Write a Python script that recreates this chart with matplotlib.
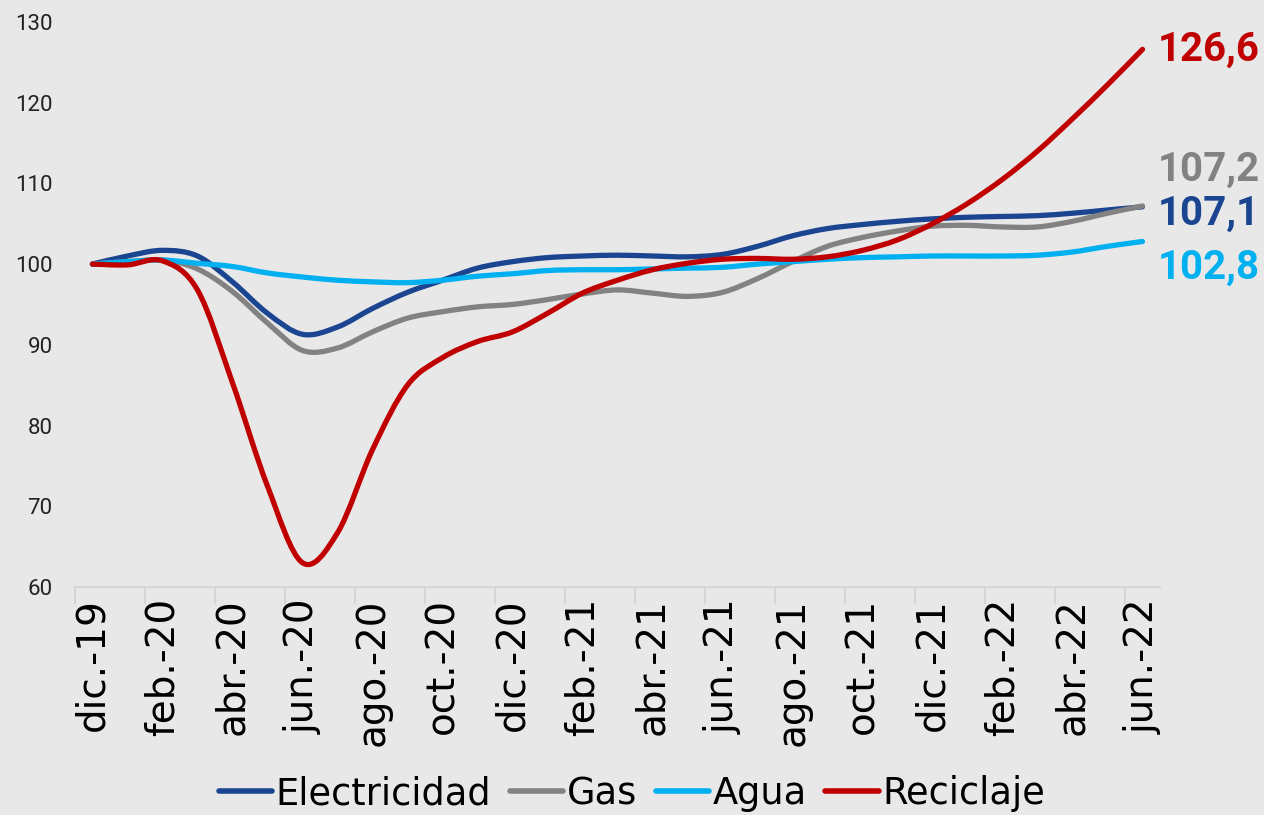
import matplotlib
matplotlib.use("Agg")
import matplotlib.pyplot as plt
import numpy as np
from matplotlib.path import Path
from matplotlib.patches import PathPatch
from matplotlib.lines import Line2D

meses = ["dic.-19", "ene.-20", "feb.-20", "mar.-20", "abr.-20", "may.-20", "jun.-20",
         "jul.-20", "ago.-20", "sep.-20", "oct.-20", "nov.-20", "dic.-20", "ene.-21",
         "feb.-21", "mar.-21", "abr.-21", "may.-21", "jun.-21", "jul.-21", "ago.-21",
         "sep.-21", "oct.-21", "nov.-21", "dic.-21", "ene.-22", "feb.-22", "mar.-22",
         "abr.-22", "may.-22", "jun.-22"]

electricidad = [100, 101.0, 101.7, 101.0, 97.8, 93.9, 91.3, 92.2, 94.5, 96.5, 98.0, 99.5,
                100.3, 100.8, 101.0, 101.1, 101.0, 100.9, 101.2, 102.2, 103.5, 104.4, 104.9,
                105.3, 105.6, 105.8, 105.9, 106.0, 106.3, 106.7, 107.1]
gas = [100, 100.3, 100.5, 99.4, 96.6, 92.7, 89.3, 89.6, 91.6, 93.3, 94.1, 94.7,
       95.0, 95.6, 96.3, 96.8, 96.4, 96.0, 96.5, 98.2, 100.3, 102.2, 103.3,
       104.1, 104.7, 104.8, 104.6, 104.6, 105.3, 106.3, 107.2]
agua = [100, 100.3, 100.5, 100.1, 99.7, 98.9, 98.4, 98.0, 97.8, 97.7, 98.0, 98.5,
        98.8, 99.2, 99.3, 99.3, 99.4, 99.5, 99.6, 100.0, 100.3, 100.6, 100.8,
        100.9, 101.0, 101.0, 101.0, 101.1, 101.5, 102.2, 102.8]
reciclaje = [100, 99.9, 100.4, 96.8, 85.3, 72.5, 63.0, 66.7, 77.0, 85.0, 88.4, 90.4,
             91.6, 93.9, 96.4, 98.0, 99.3, 100.1, 100.6, 100.7, 100.6, 100.9, 101.7,
             103.0, 105.0, 107.5, 110.5, 114.0, 118.0, 122.2, 126.6]

series = [("Electricidad", electricidad, "#1b4591"),
          ("Gas", gas, "#828282"),
          ("Agua", agua, "#00b0f0"),
          ("Reciclaje", reciclaje, "#c00000")]

# offsets (points) of the end labels
label_dy = {"Electricidad": -5, "Gas": 26, "Agua": -19, "Reciclaje": 0}


def smooth_path(x, y):
    # Excel-like smoothed line: Catmull-Rom segments as cubic Beziers
    pts = np.column_stack([x, y]).astype(float)
    ext = np.vstack([pts[0], pts, pts[-1]])
    verts = [pts[0]]
    codes = [Path.MOVETO]
    for i in range(len(pts) - 1):
        p0, p1, p2, p3 = ext[i], ext[i + 1], ext[i + 2], ext[i + 3]
        verts += [p1 + (p2 - p0) / 6, p2 - (p3 - p1) / 6, p2]
        codes += [Path.CURVE4] * 3
    return Path(verts, codes)


bg = "#e8e8e8"
fig = plt.figure(figsize=(12.64, 8.15), dpi=100, facecolor=bg)
ax = fig.add_axes([0.0593, 0.2798, 0.8584, 0.6933])
ax.set_facecolor(bg)

x = np.arange(len(meses))
handles = []
for name, vals, col in series:
    patch = PathPatch(smooth_path(x, vals), facecolor="none", edgecolor=col,
                      lw=3.8, capstyle="round", joinstyle="round")
    ax.add_patch(patch)
    handles.append(Line2D([], [], color=col, lw=4, solid_capstyle="round"))
    ax.annotate(f"{vals[-1]:.1f}".replace(".", ","), (x[-1], vals[-1]),
                xytext=(11, label_dy[name]), textcoords="offset points",
                ha="left", va="center", color=col, fontsize=29,
                fontweight="bold", family="Roboto")

ax.set_xlim(-0.5, len(meses) - 0.5)
ax.set_ylim(60, 130)
ax.set_yticks(range(60, 131, 10))
ax.tick_params(axis="y", length=0, pad=16, labelsize=16, labelcolor="#222222")
for t in ax.get_yticklabels():
    t.set_family("Roboto")

ax.set_xticks(x[::2])
ax.set_xticklabels(meses[::2], rotation=90, fontsize=28)
ax.set_xticks(np.arange(-0.5, len(meses) - 1, 2), minor=True)
ax.tick_params(axis="x", which="major", length=0, pad=8)
ax.tick_params(axis="x", which="minor", length=12, width=1.3, color="#d4d4d4")

for s in ["top", "right", "left"]:
    ax.spines[s].set_visible(False)
ax.spines["bottom"].set_color("#d6d6d6")
ax.spines["bottom"].set_linewidth(1.6)

fig.legend(handles, [s[0] for s in series], loc="center", bbox_to_anchor=(0.5, 0.026),
           ncol=4, frameon=False, fontsize=26.5, handlelength=1.45, handletextpad=0.1,
           columnspacing=0.5)

fig.savefig("out.png", dpi=100, facecolor=bg)
